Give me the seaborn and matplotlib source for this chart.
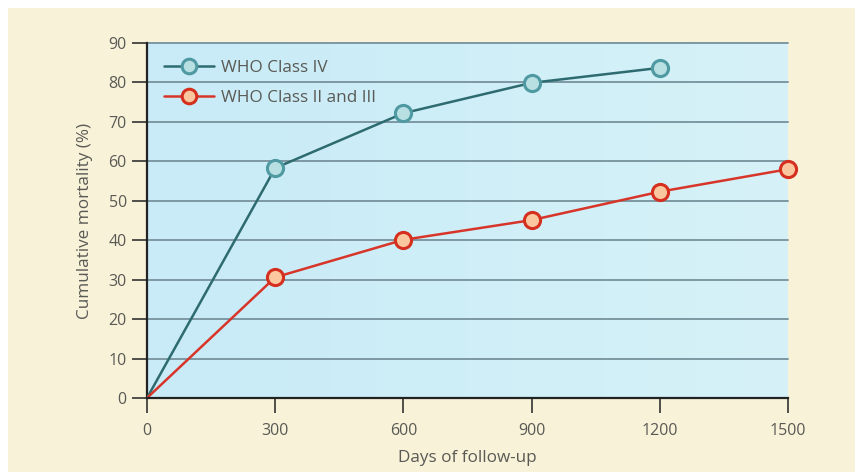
import numpy as np
import pandas as pd
import matplotlib.pyplot as plt
import seaborn as sns
from matplotlib.patches import Rectangle
from matplotlib.lines import Line2D

# values
days_class4 = [0, 300, 600, 900, 1200]
mortality_class4 = [0, 58.3, 72.2, 79.9, 83.7]
days_class23 = [0, 300, 600, 900, 1200, 1500]
mortality_class23 = [0, 30.6, 40.1, 45.1, 52.3, 58.0]
series_names = ["WHO Class IV", "WHO Class II and III"]
x_ticks = [0, 300, 600, 900, 1200, 1500]
y_ticks = list(range(0, 100, 10))

df = pd.concat([
    pd.DataFrame({"days": days_class4, "mortality": mortality_class4, "group": series_names[0]}),
    pd.DataFrame({"days": days_class23, "mortality": mortality_class23, "group": series_names[1]}),
])

sns.set_style("ticks")
plt.rcParams["font.family"] = ["Open Sans", "DejaVu Sans"]

text_col = "#5a5a55"
line_cols = {series_names[0]: "#2e6b70", series_names[1]: "#d8352a"}
face_cols = {series_names[0]: "#b8dfe2", series_names[1]: "#fbc79e"}
edge_cols = {series_names[0]: "#4f9aa2", series_names[1]: "#d5301f"}

fig = plt.figure(figsize=(8.59, 4.76), dpi=100)
fig.patch.set_facecolor("white")
# cream panel behind the chart
fig.patches.append(Rectangle((8 / 859, 4 / 476), 847 / 859, 464 / 476,
                             transform=fig.transFigure, facecolor="#f8f2d9",
                             edgecolor="none", zorder=-10))

ax = fig.add_axes([147 / 859, 78 / 476, 641 / 859, 355 / 476])
ax.set_facecolor("#cdeef8")

# soft gradient in the plot area
grad = np.linspace(0, 1, 256).reshape(1, -1)
ax.imshow(grad, extent=[0, 1500, 0, 90], aspect="auto", origin="lower",
          cmap=sns.blend_palette(["#c8ebf7", "#d6f2f8"], as_cmap=True), zorder=0)

for y in y_ticks[1:]:
    ax.axhline(y, color="#7d98a2", lw=1.4, zorder=1, clip_on=False)

sns.lineplot(data=df, x="days", y="mortality", hue="group", palette=line_cols,
             lw=1.8, legend=False, ax=ax, zorder=3)

for name in series_names:
    sub = df[(df.group == name) & (df.days > 0)]
    ax.scatter(sub.days, sub.mortality, s=135, facecolor=face_cols[name],
               edgecolor=edge_cols[name], linewidth=2.2, zorder=4, clip_on=False)

handles = [Line2D([], [], color=line_cols[n], lw=1.8, marker="o", markersize=10.5,
                  markerfacecolor=face_cols[n], markeredgecolor=edge_cols[n],
                  markeredgewidth=2.2) for n in series_names]
leg = ax.legend(handles, series_names, loc="upper left", frameon=False,
                handlelength=2.9, handletextpad=0.45, labelspacing=0.8,
                fontsize=12.3, borderaxespad=0.6, borderpad=0.4)
for t in leg.get_texts():
    t.set_color(text_col)

ax.set_xlim(0, 1500)
ax.set_ylim(0, 90)
ax.set_xticks(x_ticks)
ax.set_yticks(y_ticks)
ax.tick_params(axis="both", colors="#333333", labelcolor=text_col, labelsize=11.5,
               length=11, width=1.2)
ax.tick_params(axis="y", pad=3.5)
ax.tick_params(axis="x", pad=7)
for side in ["top", "right"]:
    ax.spines[side].set_visible(False)
for side in ["left", "bottom"]:
    ax.spines[side].set_color("#222222")
    ax.spines[side].set_linewidth(1.6)
ax.spines["bottom"].set_zorder(5)

ax.set_xlabel("Days of follow-up", color=text_col, fontsize=12.3, labelpad=8)
ax.set_ylabel("Cumulative mortality (%)", color=text_col, fontsize=12.3, labelpad=11)

fig.savefig("out.png", dpi=100, facecolor=fig.get_facecolor())
